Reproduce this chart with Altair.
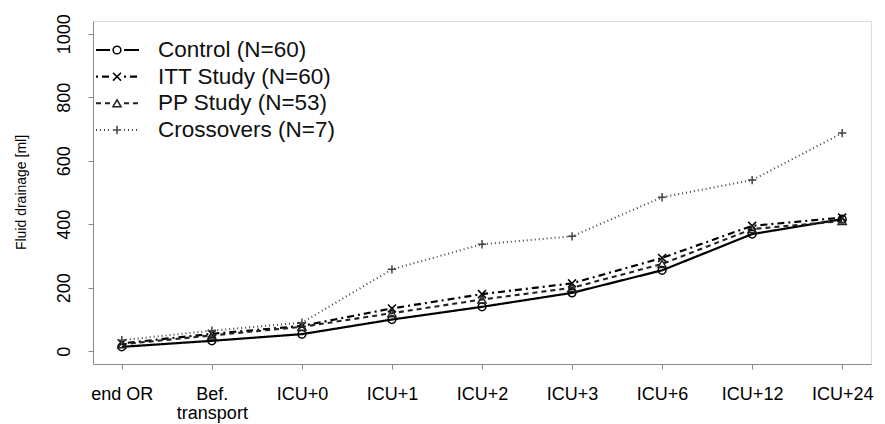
import altair as alt
import pandas as pd

times = ["end OR", "Bef. transport", "ICU+0", "ICU+1", "ICU+2", "ICU+3", "ICU+6", "ICU+12", "ICU+24"]
series = ["Control", "ITT Study", "PP Study", "Crossovers"]
legend_labels = ["Control (N=60)", "ITT Study (N=60)", "PP Study (N=53)", "Crossovers (N=7)"]

control = [14, 33, 54, 100, 140, 184, 255, 369, 416]
itt = [25, 55, 80, 135, 180, 214, 294, 395, 421]
pp = [22, 50, 77, 120, 163, 200, 275, 385, 410]
crossovers = [35, 65, 90, 258, 337, 362, 485, 539, 687]

values = {"Control": control, "ITT Study": itt, "PP Study": pp, "Crossovers": crossovers}
rows = []
for s in series:
    for t, v in zip(times, values[s]):
        rows.append({"series": s, "time": t, "value": v})
df = pd.DataFrame(rows)

leg = pd.DataFrame({"series": series, "label": legend_labels, "rank": [0, 1, 2, 3]})

X_PATH = "M-1,-1L1,1M-1,1L1,-1"
PLUS_PATH = "M-1,0L1,0M0,-1L0,1"

dash_scale = alt.Scale(domain=series, range=[[1, 0], [2, 4, 7, 4], [5, 4], [1, 3]])
width_scale = alt.Scale(domain=series, range=[2.2, 2, 1.3, 1.2])
shape_scale = alt.Scale(domain=series, range=["circle", X_PATH, "triangle-up", PLUS_PATH])
size_scale = alt.Scale(domain=series, range=[60, 70, 80, 140])
color_scale = alt.Scale(domain=series, range=["#000000", "#000000", "#222222", "#444444"])

xenc = alt.X("time:O", sort=times, title=None,
             scale=alt.Scale(type="point", padding=0.32),
             axis=alt.Axis(labelAngle=0, labelFontSize=18, labelPadding=16, grid=False,
                           labelLineHeight=19, labelBaseline="top",
                           labelExpr="datum.value == 'Bef. transport' ? ['Bef.', 'transport'] : datum.label"))
yenc = alt.Y("value:Q", title="Fluid drainage [ml]",
             scale=alt.Scale(domain=[-40, 1040], nice=False, zero=False),
             axis=alt.Axis(values=[0, 200, 400, 600, 800, 1000], labelAngle=-90, format="d",
                           grid=False,
                           labelAlign="center", labelBaseline="alphabetic", labelPadding=19,
                           labelFontSize=18, titleFontSize=14, titleFontWeight="normal",
                           titleAngle=-90, titleX=-68, titleY=171, titleAlign="center",
                           titleBaseline="alphabetic"))

lines = alt.Chart(df).mark_line().encode(
    x=xenc, y=yenc,
    detail="series:N",
    strokeDash=alt.StrokeDash("series:N", scale=dash_scale, legend=None),
    strokeWidth=alt.StrokeWidth("series:N", scale=width_scale, legend=None),
    color=alt.Color("series:N", scale=color_scale, legend=None),
)
points = alt.Chart(df).mark_point(filled=False, strokeWidth=1.5, opacity=1).encode(
    x=xenc, y=yenc,
    shape=alt.Shape("series:N", scale=shape_scale, legend=None),
    size=alt.Size("series:N", scale=size_scale, legend=None),
    color=alt.Color("series:N", scale=color_scale, legend=None),
)
main = alt.layer(lines, points)

ly = alt.Y("rank:O", scale=alt.Scale(type="point", domain=[0, 1, 2, 3], range=[29, 109], padding=0), axis=None)
leg_l = alt.Chart(leg).mark_rule().encode(
    x=alt.value(3), x2=alt.value(17), y=ly,
    strokeDash=alt.StrokeDash("series:N", scale=dash_scale, legend=None),
    strokeWidth=alt.StrokeWidth("series:N", scale=width_scale, legend=None),
    color=alt.Color("series:N", scale=color_scale, legend=None),
)
leg_r = alt.Chart(leg).mark_rule().encode(
    x=alt.value(31), x2=alt.value(46), y=ly,
    strokeDash=alt.StrokeDash("series:N", scale=dash_scale, legend=None),
    strokeWidth=alt.StrokeWidth("series:N", scale=width_scale, legend=None),
    color=alt.Color("series:N", scale=color_scale, legend=None),
)
leg_p = alt.Chart(leg).mark_point(filled=False, strokeWidth=1.5, opacity=1).encode(
    x=alt.value(24), y=ly,
    shape=alt.Shape("series:N", scale=shape_scale, legend=None),
    size=alt.Size("series:N", scale=size_scale, legend=None),
    color=alt.Color("series:N", scale=color_scale, legend=None),
)
leg_t = alt.Chart(leg).mark_text(align="left", baseline="middle", fontSize=22.5,
                                 font="Liberation Sans", color="#111111").encode(
    x=alt.value(65), y=ly, text="label:N",
)
legend = alt.layer(leg_l, leg_r, leg_p, leg_t)

chart = alt.layer(main, legend).resolve_scale(
    y="independent"
).properties(
    width=778, height=343,
    autosize=alt.AutoSizeParams(type="none"),
    padding={"left": 85, "top": 13, "right": 5, "bottom": 60},
).configure_view(
    stroke="#222222", strokeWidth=1.2
).configure_axis(
    grid=False, domain=False, tickColor="#222222", tickSize=11, tickWidth=1,
    labelColor="#111111", titleColor="#111111", labelFont="Liberation Sans",
    titleFont="Liberation Sans"
).configure(background="white")

chart.save("out.html", embed_options={"renderer": "svg", "actions": False})
